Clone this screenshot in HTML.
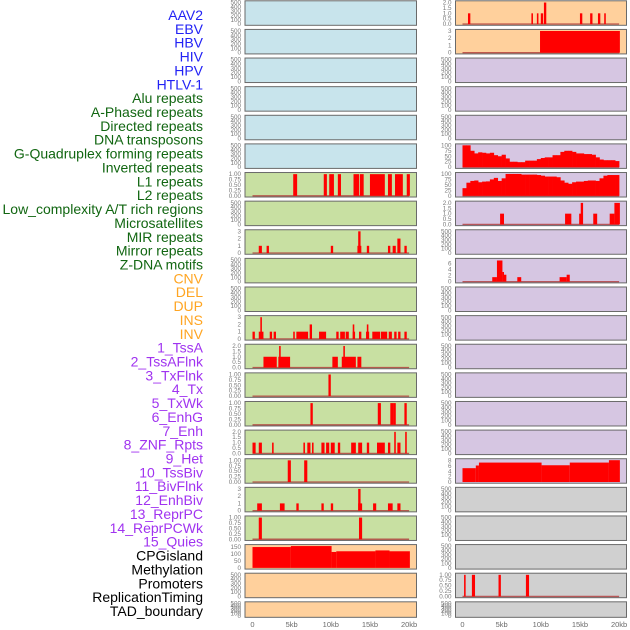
<!DOCTYPE html>
<html><head><meta charset="utf-8"><style>
html,body{margin:0;padding:0;background:#fff;}
svg{display:block;font-family:"Liberation Sans",sans-serif;}
</style></head><body>
<svg id="chart" width="630" height="630" viewBox="0 0 630 630"></svg>
<script>
// ---- data ----
const labelTexts = ["AAV2","EBV","HBV","HIV","HPV","HTLV-1","Alu repeats","A-Phased repeats","Directed repeats","DNA transposons","G-Quadruplex forming repeats","Inverted repeats","L1 repeats","L2 repeats","Low_complexity A/T rich regions","Microsatellites","MIR repeats","Mirror repeats","Z-DNA motifs","CNV","DEL","DUP","INS","INV","1_TssA","2_TssAFlnk","3_TxFlnk","4_Tx","5_TxWk","6_EnhG","7_Enh","8_ZNF_Rpts","9_Het","10_TssBiv","11_BivFlnk","12_EnhBiv","13_ReprPC","14_ReprPCWk","15_Quies","CPGisland","Methylation","Promoters","ReplicationTiming","TAD_boundary"];
const labelGroups = [6,13,5,15,5];
const xTickKb = [0,5,10,15,20];
const xTickLabels = ["0","5kb","10kb","15kb","20kb"];

// segments: [startKb, endKb, value]
const segL6 = [[5.2,5.7,1],[9.1,9.5,1],[9.8,10.4,1],[10.9,11.3,1],[12.9,13.6,1],[13.7,14.2,1],[15.0,16.9,1],[17.3,17.8,1],[18.2,19.2,1],[19.7,20.1,1]];
const segL8 = [[0.8,1.2,1],[1.8,2.1,1],[10.0,10.3,1],[13.4,13.9,1],[13.5,13.8,3],[14.6,14.9,1],[17.3,17.6,1],[17.9,18.3,1],[18.5,18.9,2],[19.4,19.7,1]];
const segL11 = [[0,0.3,1],[0.8,1.4,1],[1.0,1.2,3],[2.2,2.5,1],[2.7,3.0,1],[5.2,5.4,1],[5.6,7.1,1],[7.3,7.6,2],[8.5,9.4,1],[10.7,11.0,1],[11.2,11.8,1],[11.9,12.3,1],[12.8,13.1,1],[12.8,13.0,2],[13.6,13.9,1],[14.5,14.9,1],[14.6,14.8,2],[15.3,16.3,1],[16.4,17.2,1],[17.4,17.8,1],[18.1,18.4,1],[18.6,18.9,1],[19.4,19.7,1]];
const segL12 = [[1.4,3.1,1],[3.3,4.8,1],[3.4,3.6,2],[10.2,10.9,1],[11.4,13.2,1],[11.6,11.8,2],[13.4,13.9,1]];
const segL13 = [[9.7,10.0,1]];
const segL14 = [[7.4,7.7,1],[16.0,16.4,1],[17.6,18.0,1],[18.0,18.3,1],[19.4,19.7,1]];
const segL15 = [[0,0.4,1],[0.8,1.2,1],[2.5,2.7,1],[6.5,6.7,1],[7.0,7.4,1],[7.6,7.8,1],[8.8,9.2,1],[9.4,9.8,1],[10.0,10.5,1],[10.9,11.2,1],[12.6,13.2,1],[13.5,14.0,1],[14.6,14.9,1],[15.9,16.9,1],[17.3,17.6,1],[18.1,18.3,2],[18.5,18.9,1],[19.5,19.7,2]];
const segL16 = [[4.5,4.9,1],[6.6,7.0,1]];
const segL17 = [[0.6,1.2,1],[3.5,4.1,1],[5.6,5.9,1],[8.8,9.1,1],[10.0,10.3,1],[13.5,14.0,1],[13.5,13.8,3],[15.4,15.8,1],[17.3,17.9,1],[18.5,18.9,1]];
const segL18 = [[0.8,1.2,1],[13.6,14.0,1]];
const segL19 = [[0,4.9,148],[4.9,10.1,155],[10.1,10.7,113],[10.7,15.7,118],[15.7,17.5,124],[17.5,20.1,118]];
const segR0 = [[0.7,1.0,1],[8.8,9.0,1],[9.5,9.7,1],[10.0,10.3,1],[10.4,10.7,2],[15.0,15.3,1],[16.3,16.6,1],[17.3,17.6,1],[18.1,18.3,1]];
const segR1 = [[9.9,20.1,3]];
const segR7 = [[4.8,5.3,1],[13.1,13.9,1],[14.9,15.2,1],[15.1,15.4,2],[16.7,17.2,1],[18.8,19.4,1],[19.4,20.1,2]];
const segR9 = [[3.8,4.4,1.5],[4.4,5.1,7],[5.1,5.3,3.2],[5.3,5.6,2.3],[7.0,7.5,1.5],[12.4,13.3,1.5],[13.3,13.7,2.3]];
const segR16 = [[0,1.7,5.2],[1.7,2.1,6.2],[2.1,10.1,7.3],[10.1,13.7,6.3],[13.7,18.7,7.3],[18.7,20.1,8.2]];
const segR20 = [[0.2,0.4,1],[1.2,1.6,1],[4.6,4.9,1],[8.1,8.5,1]];
// profiles in 0.5kb bins
const binsR5 = [100,100,75,63,68,66,63,66,55,50,57,40,25,25,23,23,30,30,30,37,42,45,45,55,55,70,75,75,70,63,63,60,60,57,45,35,32,32,32,28];
const binsR6 = [35,60,68,70,62,65,66,75,82,68,80,100,100,100,100,97,97,97,97,95,92,88,88,88,85,70,60,55,62,65,65,68,70,70,68,80,92,95,95,95];

const tEmpty=[[0,"0"],[100,"100"],[200,"200"],[300,"300"],[400,"400"],[500,"500"]];
const t1=[[0,"0.00"],[0.25,"0.25"],[0.5,"0.50"],[0.75,"0.75"],[1,"1.00"]];
const t2=[[0,"0.0"],[0.5,"0.5"],[1,"1.0"],[1.5,"1.5"],[2,"2.0"]];
const t3=[[0,"0"],[1,"1"],[2,"2"],[3,"3"]];
const tCpg=[[0,"0"],[50,"50"],[100,"100"],[150,"150"]];
const tPct=[[0,"0"],[25,"25"],[50,"50"],[75,"75"],[100,"100"]];
const t6=[[0,"0"],[2,"2"],[4,"4"],[6,"6"]];
const t8=[[0,"0"],[2,"2"],[4,"4"],[6,"6"],[8,"8"]];

const BLUE="#c8e4ec",GREEN="#c8e0a2",PEACH="#ffd09c",PURP="#d6c6e2",GRAY="#d0d0d0";
function E(m){return {bg:m,ticks:tEmpty,max:510};}
const leftRows=[E(BLUE),E(BLUE),E(BLUE),E(BLUE),E(BLUE),E(BLUE),
 {bg:GREEN,ticks:t1,max:1.02,seg:segL6},E(GREEN),{bg:GREEN,ticks:t3,max:3.05,seg:segL8},E(GREEN),E(GREEN),
 {bg:GREEN,ticks:t3,max:3.05,seg:segL11},{bg:GREEN,ticks:t2,max:2.05,seg:segL12},{bg:GREEN,ticks:t1,max:1.02,seg:segL13},
 {bg:GREEN,ticks:t1,max:1.02,seg:segL14},{bg:GREEN,ticks:t2,max:2.05,seg:segL15},{bg:GREEN,ticks:t1,max:1.02,seg:segL16},
 {bg:GREEN,ticks:t3,max:3.05,seg:segL17},{bg:GREEN,ticks:t1,max:1.02,seg:segL18},
 {bg:PEACH,ticks:tCpg,max:157,seg:segL19,nobase:true},E(PEACH),E(PEACH)];
const rightRows=[{bg:PEACH,ticks:t2,max:2.05,seg:segR0},{bg:PEACH,ticks:t3,max:3.05,seg:segR1},E(PURP),E(PURP),E(PURP),
 {bg:PURP,ticks:tPct,max:101,bins:binsR5},{bg:PURP,ticks:tPct,max:101,bins:binsR6},{bg:PURP,ticks:t2,max:2.05,seg:segR7},E(PURP),
 {bg:PURP,ticks:t6,max:7.3,seg:segR9},E(PURP),E(PURP),E(PURP),E(PURP),E(PURP),E(PURP),
 {bg:PURP,ticks:t8,max:8.3,seg:segR16,nobase:true},E(GRAY),E(GRAY),E(GRAY),{bg:GRAY,ticks:t1,max:1.02,seg:segR20},E(GRAY)];

// ---- drawing ----
const NS="http://www.w3.org/2000/svg";
const svg=document.getElementById('chart');
function mk(tag,attrs,parent){const e=document.createElementNS(NS,tag);for(const k in attrs)e.setAttribute(k,attrs[k]);(parent||svg).appendChild(e);return e;}
const labelColors=["#2222f5","#116611","#ffa522","#a033f0","#000000"];
let k=0;
labelGroups.forEach((n,g)=>{for(let j=0;j<n;j++){const t=mk('text',{x:203,y:(15+13.86*k+5).toFixed(1),'text-anchor':'end','font-size':'14',fill:labelColors[g]});


t.textContent=labelTexts[k];k++;}});

const cols=[{x0:245,x1:416.5,z:252.5,rows:leftRows,name:'left'},{x0:455.5,x1:626.5,z:462.5,rows:rightRows,name:'right'}];
const pxPerKb=7.83;
cols.forEach(c=>{
 const xs=kb=>c.z+kb*pxPerKb;
 c.rows.forEach((r,i)=>{
  const top=0.8+28.62*i, h=(i===21?15.5:24.5), bot=top+h;
  const ys=v=>(bot-1.2)-(v/r.max)*(h-2.4);
  const g=mk('g',{});
  
  
  const bg=mk('rect',{x:c.x0,y:top,width:c.x1-c.x0,height:h,fill:r.bg},g);
  
  
  r.ticks.forEach(t=>{const tx=mk('text',{x:c.x0-4,y:(ys(t[0])+2).toFixed(1),'text-anchor':'end','font-size':'6.3',fill:'#7a7a7a'},g);
   
   
   tx.textContent=t[1];});
  if(r.seg||r.bins){
   if(!r.nobase){const bl=mk('line',{x1:xs(0),x2:xs(20),y1:ys(0),y2:ys(0),stroke:'#b03a3a','stroke-width':1.4,'stroke-opacity':0.8},g);
    
    }
   (r.seg||[]).forEach(s=>{const b=mk('rect',{x:xs(s[0]).toFixed(2),y:ys(s[2]).toFixed(2),width:(xs(s[1])-xs(s[0])).toFixed(2),height:(ys(0)-ys(s[2])).toFixed(2),fill:'#ff0000'},g);
    
    });
   (r.bins||[]).forEach((v,j)=>{const b=mk('rect',{x:xs(j*0.5).toFixed(2),y:ys(v).toFixed(2),width:(0.5*pxPerKb+0.3).toFixed(2),height:(ys(0)-ys(v)).toFixed(2),fill:'#ff0000'},g);
    
    });
  }
  const fr=mk('rect',{x:c.x0,y:top,width:c.x1-c.x0,height:h,fill:'none',stroke:'#6a6a6a','stroke-width':1},g);
  
  
 });
 xTickKb.forEach((kb,j)=>{const t=mk('text',{x:xs(kb),y:627,'text-anchor':'middle','font-size':'7.5',fill:'#6a6a6a'});
  
  
  t.textContent=xTickLabels[j];});
});
</script>
</body></html>
